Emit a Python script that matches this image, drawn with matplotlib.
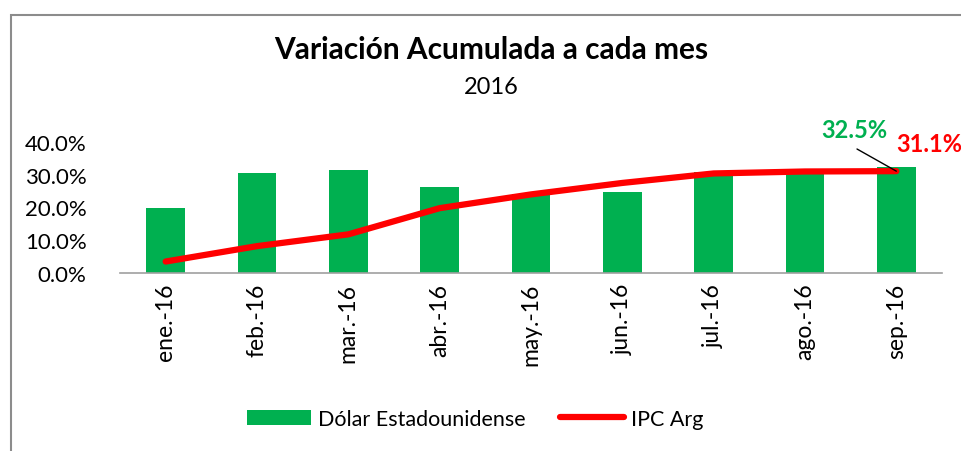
import matplotlib.pyplot as plt
from matplotlib.patches import Rectangle
from matplotlib.ticker import PercentFormatter

plt.rcParams['font.family'] = ['Lato', 'DejaVu Sans']

meses = ['ene.-16', 'feb.-16', 'mar.-16', 'abr.-16', 'may.-16',
         'jun.-16', 'jul.-16', 'ago.-16', 'sep.-16']
dolar = [20.0, 30.6, 31.5, 26.4, 24.2, 24.8, 30.9, 31.2, 32.5]
ipc = [3.5, 8.2, 11.8, 19.8, 24.0, 27.5, 30.4, 31.0, 31.1]

verde = '#00B050'
rojo = '#FF0000'

fig = plt.figure(figsize=(9.61, 4.52), dpi=100)
ax = fig.add_axes([120 / 961, 1 - 274 / 452, 822 / 961, 131 / 452])

x = list(range(len(meses)))
ax.bar(x, dolar, width=0.42, color=verde, label='Dólar Estadounidense', zorder=2)
ax.plot(x, ipc, color=rojo, linewidth=4.5, solid_capstyle='round',
        label='IPC Arg', zorder=3)

ax.set_xlim(-0.5, len(meses) - 0.5)
ax.set_ylim(0, 40)
ax.set_yticks([0, 10, 20, 30, 40])
ax.yaxis.set_major_formatter(PercentFormatter(decimals=1))
ax.set_xticks(x)
ax.set_xticklabels(meses, rotation=90, fontsize=16.5)
ax.tick_params(axis='y', labelsize=16, length=0, pad=24)
ax.tick_params(axis='x', length=0, pad=7)
for s in ['top', 'right', 'left']:
    ax.spines[s].set_visible(False)
ax.spines['bottom'].set_color('#A0A0A0')
ax.spines['bottom'].set_linewidth(1.2)

# etiquetas del último mes (con línea guía)
ax.annotate('', xy=(x[-1], ipc[-1]), xytext=(857, 452 - 150),
            textcoords='figure pixels',
            arrowprops=dict(arrowstyle='-', color='black', lw=1,
                            shrinkA=0, shrinkB=0), zorder=4)
fig.text(854 / 961, 1 - 130 / 452, f'{dolar[-1]:.1f}%', fontsize=17,
         fontweight='bold', color=verde, ha='center', va='center')
fig.text(929 / 961, 1 - 145 / 452, f'{ipc[-1]:.1f}%', fontsize=17,
         fontweight='bold', color=rojo, ha='center', va='center')

fig.text(491 / 961, 1 - 50 / 452, 'Variación Acumulada a cada mes',
         fontsize=21.5, fontweight='bold', ha='center', va='center')
fig.text(491 / 961, 1 - 88 / 452, '2016', fontsize=17, ha='center', va='center')

handles, labels = ax.get_legend_handles_labels()
fig.legend(handles[::-1], labels[::-1], loc='center',
           bbox_to_anchor=(475 / 961, 1 - 420 / 452), ncol=2,
           frameon=False, fontsize=15.5, handlelength=3.0, columnspacing=1.6,
           handletextpad=0.3)

# marco del gráfico
fig.patches.append(Rectangle((11 / 961, -0.1), 1.2, 1 - 16 / 452 + 0.1,
                             transform=fig.transFigure, fill=False,
                             edgecolor='#8C8C8C', linewidth=1.5))

fig.savefig('out.png', dpi=100)
